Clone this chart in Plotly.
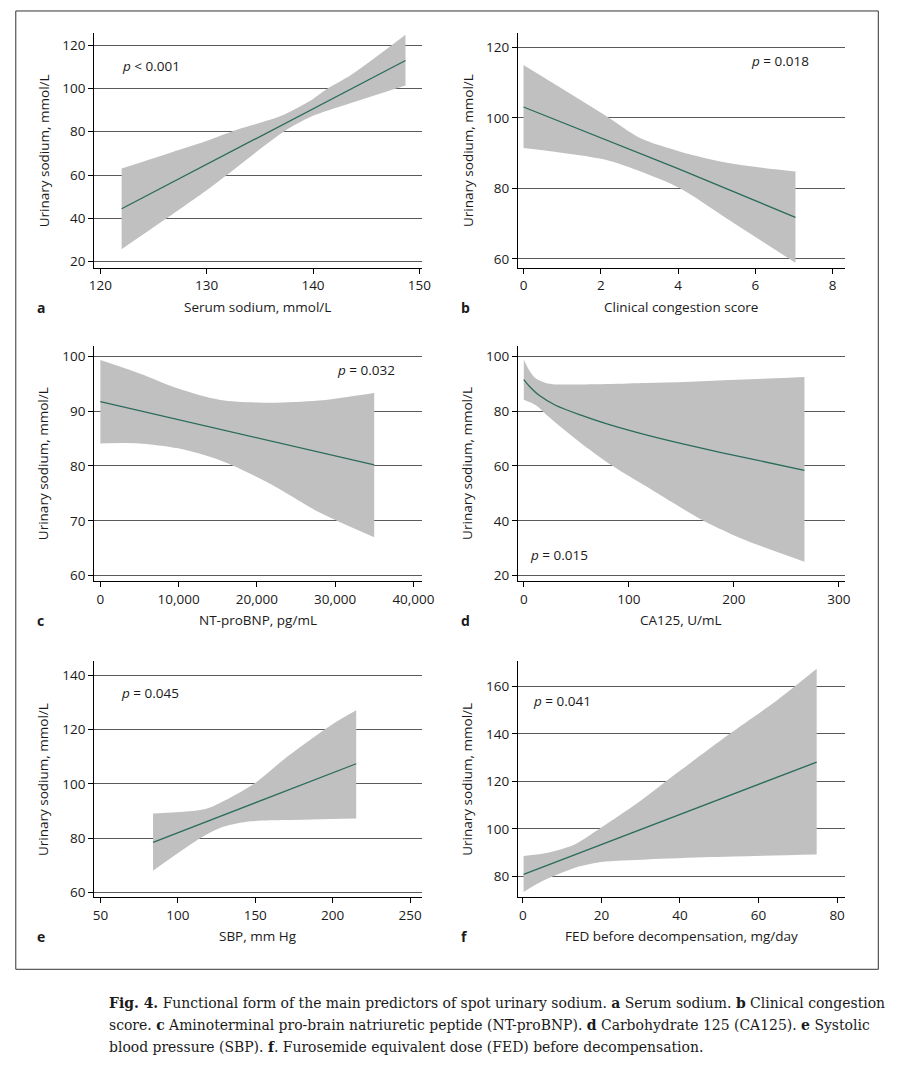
import plotly.graph_objects as go

W, H = 906, 1078

# ---------------- data ----------------
# a: Serum sodium
a_fit_x = [122.0, 148.7]
a_fit_y = [44.4, 112.9]
a_up_x = [122.0, 126.1, 129.9, 132.9, 136.9, 139.9, 141.3, 143.6, 148.7]
a_up_y = [63.0, 69.5, 75.6, 81.0, 87.1, 94.8, 99.7, 106.3, 124.8]
a_lo_x = [122.0, 126.1, 129.9, 131.9, 137.2, 139.9, 142.4, 148.7]
a_lo_y = [25.7, 39.5, 52.6, 60.0, 79.9, 87.1, 91.4, 101.4]

# b: Clinical congestion score
b_fit_x = [0.0, 4.0, 7.04]
b_fit_y = [103.1, 85.6, 71.8]
b_up_x = [0.0, 2.1, 3.03, 4.04, 5.31, 7.04]
b_up_y = [115.0, 100.8, 94.2, 90.5, 87.2, 84.8]
b_lo_x = [0.0, 2.1, 3.03, 4.04, 5.31, 7.04]
b_lo_y = [91.5, 88.2, 84.8, 80.1, 71.1, 58.9]

# c: NT-proBNP
c_fit_x = [0, 34990]
c_fit_y = [91.7, 80.2]
c_up_x = [0, 4927, 9937, 15365, 21628, 27891, 34990]
c_up_y = [99.3, 96.9, 94.1, 92.0, 91.5, 91.9, 93.3]
c_lo_x = [0, 4927, 9937, 15365, 21628, 27891, 34990]
c_lo_y = [84.1, 84.1, 83.2, 81.0, 76.8, 71.6, 67.0]

# d: CA125
d_fit_x = [0, 5.3, 14.6, 30.2, 55.1, 80.0, 117.3, 164.0, 210.7, 267.3]
d_fit_y = [91.4, 89.0, 85.7, 82.1, 78.4, 75.2, 71.2, 66.9, 63.0, 58.4]
d_up_x = [0, 5.3, 11.5, 20.9, 30.2, 117.3, 267.3]
d_up_y = [98.7, 94.8, 91.8, 90.2, 89.7, 90.2, 92.4]
d_lo_x = [0, 11.5, 24.0, 55.1, 86.2, 117.3, 170.2, 210.7, 267.3]
d_lo_y = [84.1, 82.1, 77.8, 68.1, 59.6, 52.4, 40.2, 33.0, 25.1]

# e: SBP
e_fit_x = [84.0, 215.2]
e_fit_y = [78.4, 107.4]
e_up_x = [84.0, 117.1, 127.6, 148.7, 169.8, 199.4, 215.2]
e_up_y = [89.0, 90.6, 93.0, 99.8, 109.6, 121.8, 127.1]
e_lo_x = [84.0, 96.0, 115.0, 127.6, 144.5, 169.8, 215.2]
e_lo_y = [67.9, 72.8, 80.1, 83.8, 86.0, 86.6, 87.2]

# f: FED before decompensation
f_fit_x = [0.2, 74.8]
f_fit_y = [80.8, 128.1]
f_up_x = [0.2, 6.65, 13.3, 19.96, 29.9, 39.9, 52.4, 64.9, 74.8]
f_up_y = [88.5, 90.0, 93.5, 100.5, 111.7, 124.3, 139.7, 154.4, 167.4]
f_lo_x = [0.2, 5.0, 13.3, 19.96, 31.6, 48.2, 74.8]
f_lo_y = [73.4, 78.0, 83.6, 86.0, 87.1, 88.1, 89.2]

x_titles = ["Serum sodium, mmol/L", "Clinical congestion score", "NT-proBNP, pg/mL",
            "CA125, U/mL", "SBP, mm Hg", "FED before decompensation, mg/day"]
y_title = "Urinary sodium, mmol/L"
letters = ["a", "b", "c", "d", "e", "f"]
p_texts = ["<i>p</i> &lt; 0.001", "<i>p</i> = 0.018", "<i>p</i> = 0.032",
           "<i>p</i> = 0.015", "<i>p</i> = 0.045", "<i>p</i> = 0.041"]

x_ticks = [[120, 130, 140, 150], [0, 2, 4, 6, 8], [0, 10000, 20000, 30000, 40000],
           [0, 100, 200, 300], [50, 100, 150, 200, 250], [0, 20, 40, 60, 80]]
x_ticktext = [None, None, ["0", "10,000", "20,000", "30,000", "40,000"], None, None, None]
y_ticks = [[20, 40, 60, 80, 100, 120], [60, 80, 100, 120], [60, 70, 80, 90, 100],
           [20, 40, 60, 80, 100], [60, 80, 100, 120, 140], [80, 100, 120, 140, 160]]

caption_lines = [
    "<b>Fig. 4.</b> Functional form of the main predictors of spot urinary sodium. <b>a</b> Serum sodium. <b>b</b> Clinical congestion",
    "score. <b>c</b> Aminoterminal pro-brain natriuretic peptide (NT-proBNP). <b>d</b> Carbohydrate 125 (CA125). <b>e</b> Systolic",
    "blood pressure (SBP). <b>f</b>. Furosemide equivalent dose (FED) before decompensation.",
]

panels = [
    (a_fit_x, a_fit_y, a_up_x, a_up_y, a_lo_x, a_lo_y),
    (b_fit_x, b_fit_y, b_up_x, b_up_y, b_lo_x, b_lo_y),
    (c_fit_x, c_fit_y, c_up_x, c_up_y, c_lo_x, c_lo_y),
    (d_fit_x, d_fit_y, d_up_x, d_up_y, d_lo_x, d_lo_y),
    (e_fit_x, e_fit_y, e_up_x, e_up_y, e_lo_x, e_lo_y),
    (f_fit_x, f_fit_y, f_up_x, f_up_y, f_lo_x, f_lo_y),
]

# ---------------- layout geometry (pixels) ----------------
col_px = [(91, 425), (523.3, 857)]
row_px = [(33, 269), (346.5, 583), (663, 900)]
x_ranges = [[119.42, 150.21], [-0.145, 8.322], [-789, 41039],
            [-5.6, 305.9], [46.0, 257.4], [-1.25, 82.0]]
y_ranges = [[16.91, 125.67], [57.34, 124.13], [58.96, 101.93],
            [17.93, 103.85], [58.05, 145.26], [71.05, 170.63]]
p_pos = [(117, 65.7), (759, 60.7), (337, 371), (534, 556.7), (116, 695), (537, 702.7)]

def px(x):
    return x / W

def py(y):
    return 1 - y / H

FONT = "Open Sans, Noto Sans, sans-serif"
TXT = "#1a1a1a"
FILL = "#c0c0c0"
LINE = "#2a6b5b"

fig = go.Figure()
layout = dict(width=W, height=H, margin=dict(l=0, r=0, t=0, b=0),
              paper_bgcolor="white", plot_bgcolor="white", showlegend=False)
annotations = []

for i, (fx, fy, ux, uy, lx, ly) in enumerate(panels):
    r, c = divmod(i, 2)
    sfx = "" if i == 0 else str(i + 1)
    xa, ya = "x" + sfx, "y" + sfx
    fig.add_trace(go.Scatter(x=lx, y=ly, mode="lines",
                             line=dict(width=0, color=FILL, shape="spline", smoothing=0.8),
                             hoverinfo="skip", xaxis=xa, yaxis=ya))
    fig.add_trace(go.Scatter(x=ux, y=uy, mode="lines", fill="tonexty", fillcolor=FILL,
                             line=dict(width=0, color=FILL, shape="spline", smoothing=0.8),
                             hoverinfo="skip", xaxis=xa, yaxis=ya))
    fig.add_trace(go.Scatter(x=fx, y=fy, mode="lines",
                             line=dict(color=LINE, width=1.3, shape="spline", smoothing=0.8),
                             xaxis=xa, yaxis=ya))
    x0, x1 = col_px[c]
    y0, y1 = row_px[r]
    common = dict(showline=True, linecolor="black", linewidth=1, ticks="outside",
                  ticklen=5, tickwidth=1, tickcolor="black", zeroline=False,
                  tickfont=dict(family=FONT, size=13.5, color=TXT), fixedrange=True)
    xd = dict(common, domain=[px(x0), px(x1)], range=x_ranges[i], tickmode="array",
              tickvals=x_ticks[i], showgrid=False, anchor=ya)
    if x_ticktext[i]:
        xd["ticktext"] = x_ticktext[i]
    yd = dict(common, domain=[py(y1), py(y0)], range=y_ranges[i], tickmode="array",
              tickvals=y_ticks[i], showgrid=True, gridcolor="#5a5a5a", gridwidth=1,
              anchor=xa)
    layout["xaxis" + sfx] = xd
    layout["yaxis" + sfx] = yd

    # x title
    annotations.append(dict(text=x_titles[i], x=px((x0 + x1) / 2), y=py(y1 + 39),
                            xref="paper", yref="paper", showarrow=False,
                            xanchor="center", yanchor="middle",
                            font=dict(family=FONT, size=13.5, color=TXT)))
    # y title
    annotations.append(dict(text=y_title, x=px(x0 - 51.5), y=py((y0 + y1) / 2),
                            xref="paper", yref="paper", showarrow=False, textangle=-90,
                            xanchor="center", yanchor="middle",
                            font=dict(family=FONT, size=13.5, color=TXT)))
    # panel letter
    annotations.append(dict(text="<b>" + letters[i] + "</b>", x=px(x0 - 60), y=py(y1 + 39),
                            xref="paper", yref="paper", showarrow=False,
                            xanchor="left", yanchor="middle",
                            font=dict(family=FONT, size=14, color=TXT)))
    # p-value
    annotations.append(dict(text=p_texts[i], x=px(p_pos[i][0]), y=py(p_pos[i][1]),
                            xref="paper", yref="paper", showarrow=False,
                            xanchor="left", yanchor="middle",
                            font=dict(family=FONT, size=13.5, color=TXT)))

cap_y = [1005, 1027, 1049]
for line, yy in zip(caption_lines, cap_y):
    annotations.append(dict(text=line, x=px(104), y=py(yy), xref="paper", yref="paper",
                            showarrow=False, xanchor="left", yanchor="middle",
                            font=dict(family="DejaVu Serif Condensed, Liberation Serif, serif",
                                      size=15.5, color=TXT)))

layout["annotations"] = annotations
layout["shapes"] = [dict(type="rect", xref="paper", yref="paper",
                         x0=px(11), x1=px(891), y0=py(972), y1=py(11),
                         line=dict(color="#333333", width=1), fillcolor="rgba(0,0,0,0)")]
fig.update_layout(**layout)
fig.write_html("out.html")
